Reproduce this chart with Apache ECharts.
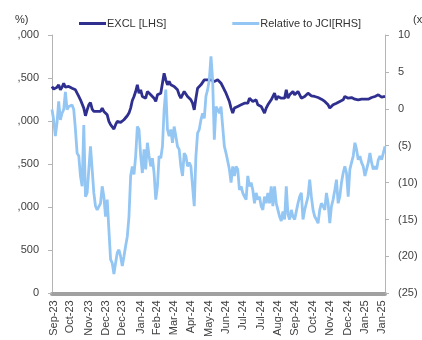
<!DOCTYPE html>
<html>
<head>
<meta charset="utf-8">
<script src="https://cdn.jsdelivr.net/npm/echarts@6/dist/echarts.min.js"></script>
<style>
  html, body { margin: 0; padding: 0; background: #fff; }
  #main { width: 422px; height: 340px; }
</style>
</head>
<body>
<div id="main"></div>
<script>
// month labels under the x axis and the point each one sits on
var tickLabels = ['Sep-23', 'Oct-23', 'Nov-23', 'Dec-23', 'Dec-23', 'Jan-24', 'Feb-24', 'Mar-24', 'Apr-24', 'May-24',
  'Jun-24', 'Jul-24', 'Jul-24', 'Aug-24', 'Sep-24', 'Oct-24', 'Nov-24', 'Dec-24', 'Jan-25', 'Jan-25'];
var labelIdx = [1, 11, 22, 32, 42, 53, 63, 73, 83, 94, 104, 114, 125, 135, 145, 156, 166, 177, 187, 197];
var bandTicks = [24, 59, 94, 130, 165];

// EXCL share price [LHS]
var excl = [
  2402, 2371, 2355, 2394, 2421, 2363, 2394, 2440, 2394, 2382, 2402, 2394, 2382, 2382, 2363, 2324, 2286, 2247, 2266, 2151,
  2062, 2131, 2189, 2216, 2139, 2112, 2093, 2112, 2131, 2112, 2151, 2112, 2131, 2073, 1996, 1958, 1938, 1908, 1958, 1996,
  2008, 1985, 1996, 2016, 2035, 2062, 2093, 2151, 2239, 2286, 2344,
  2421, 2324, 2363, 2286, 2305, 2266, 2344, 2324, 2305, 2305, 2266, 2228, 2305, 2305, 2324, 2440, 2556, 2479, 2421, 2460,
  2421, 2440, 2402, 2421, 2363, 2305, 2266, 2286, 2344, 2324, 2286, 2286, 2247, 2208, 2131, 2266, 2382, 2402, 2421, 2440,
  2479, 2460, 2479, 2487, 2479, 2479, 2460, 2479, 2479,
  2460, 2440, 2402, 2363, 2324, 2305, 2228, 2151, 2093, 2151, 2131, 2170, 2151, 2189, 2170, 2208, 2228, 2208, 2266, 2247,
  2228, 2208, 2247, 2189, 2189, 2170, 2151, 2093, 2151, 2189, 2189, 2247, 2266, 2324, 2247, 2286, 2286, 2266, 2286, 2266,
  2363, 2266, 2305, 2305, 2344, 2305, 2324, 2344, 2363,
  2266, 2247, 2286, 2305, 2324, 2305, 2294, 2286, 2286, 2286, 2274, 2266, 2255, 2247, 2228, 2208, 2189, 2151, 2170, 2189,
  2201, 2208, 2216, 2228, 2239, 2247, 2286, 2305, 2266, 2266, 2274, 2266, 2255, 2247, 2247, 2247, 2255, 2266, 2255, 2247,
  2255, 2266, 2274, 2286, 2286, 2286, 2305, 2286, 2278, 2266, 2286
];

// Relative to JCI, % [RHS]
var relJci = [
  -0.1, -1.5, -3.7, -1.9, 1.0, -1.5, -0.6, -0.1, 2.3, -0.1, 0.3, 0.1, 0.5, -0.1, -2.8, -6.0, -6.4, -9.1, -10.5, -2.2,
  -11.9, -11.4, -8.2, -5.1, -8.2, -11.4, -13.2, -13.7, -13.7, -12.8, -10.5, -11.9, -14.6, -12.3, -16.4, -20.4, -20.9, -22.4, -20.9, -19.5,
  -19.1, -20.0, -21.3, -20.0, -18.6, -17.3, -14.6, -9.1, -7.8, -8.9, -6.4,
  -2.4, -2.8, -6.4, -8.7, -5.5, -8.2, -4.6, -6.4, -7.8, -6.7, -8.7, -12.3, -10.5, -6.4, -6.7, -5.1, -0.1, 2.6, -2.8, -3.7,
  -2.8, -4.6, -2.4, -3.7, -5.1, -5.5, -7.8, -9.1, -6.0, -6.4, -7.8, -7.3, -7.8, -7.8, -13.2, -6.4, -3.3, -2.8, -1.5, -0.6,
  -1.3, 1.7, 2.6, 3.9, 7.1, 3.9, -4.2, 0.3, -0.1,
  -0.6, 0.3, -2.4, -5.1, -6.0, -6.2, -8.2, -10.0, -7.8, -9.1, -7.8, -8.2, -11.0, -10.5, -11.4, -11.9, -12.3, -9.1, -10.5, -10.0,
  -11.0, -12.8, -11.4, -12.3, -11.9, -13.2, -13.7, -11.9, -12.8, -11.4, -12.8, -10.5, -13.2, -10.5, -12.8, -13.7, -14.6, -15.2, -13.9, -15.0,
  -10.5, -14.3, -15.0, -13.7, -14.6, -15.0, -13.9, -12.8, -11.9,
  -11.4, -15.0, -13.7, -12.8, -11.9, -9.6, -11.9, -13.7, -14.6, -15.0, -15.5, -13.7, -12.8, -13.2, -13.7, -11.4, -12.8, -15.5, -13.2, -12.3,
  -11.0, -9.6, -12.8, -11.9, -10.0, -8.7, -7.8, -8.7, -11.9, -8.2, -7.3, -6.4, -4.6, -5.5, -6.9, -6.4, -7.3, -7.8, -9.1, -8.2,
  -7.3, -6.0, -7.3, -8.2, -7.8, -8.2, -6.9, -6.4, -6.9, -6.7, -5.1
];

var cats = excl.map(function (v, i) {
  var k = labelIdx.indexOf(i);
  return k >= 0 ? tickLabels[k] : '';
});

var chartDom = document.getElementById('main');
var myChart = echarts.init(chartDom);
var font = 'Liberation Sans';

myChart.setOption({
  animation: false,
  grid: { left: 52, right: 37, top: 35, bottom: 46 },
  legend: {
    left: 74,
    top: 13,
    itemGap: 66,
    itemWidth: 27,
    itemHeight: 3,
    icon: 'rect',
    textStyle: { fontFamily: font, fontSize: 11, color: '#333', padding: [0, 0, 0, -4] },
    data: ['EXCL [LHS]', 'Relative to JCI[RHS]']
  },
  graphic: [
    { type: 'text', left: 15, top: 14, style: { text: '%)', font: '11px "Liberation Sans"', fill: '#333' } },
    { type: 'text', left: 413, top: 14, style: { text: '(x)', font: '11px "Liberation Sans"', fill: '#333' } }
  ],
  xAxis: [
    {
      // grey band with the month labels
      type: 'category',
      boundaryGap: false,
      data: cats,
      axisLine: { lineStyle: { color: '#a0a0a0', width: 4 } },
      axisTick: { show: false },
      axisLabel: {
        interval: function (i, v) { return v !== ''; },
        rotate: 90,
        margin: 7,
        fontFamily: font,
        fontSize: 11,
        color: '#404040'
      }
    },
    {
      // white breaks across the band
      type: 'category',
      boundaryGap: false,
      data: cats,
      position: 'bottom',
      axisLine: { show: false },
      axisLabel: { show: false },
      axisTick: {
        show: true,
        inside: true,
        length: 3,
        interval: function (i) { return bandTicks.indexOf(i) >= 0; },
        lineStyle: { color: '#ffffff', width: 1 }
      }
    }
  ],
  yAxis: [
    {
      type: 'value',
      min: 0,
      max: 3000,
      interval: 500,
      axisLine: { show: true, lineStyle: { color: '#b4b4b4' } },
      axisTick: { show: true, length: 4, lineStyle: { color: '#b4b4b4' } },
      axisLabel: {
        margin: 13,
        fontFamily: font,
        fontSize: 11,
        color: '#404040',
        formatter: function (v) {
          if (v >= 1000) return ',' + String(v % 1000).padStart(3, '0');
          return String(v);
        }
      },
      splitLine: { show: false }
    },
    {
      type: 'value',
      min: -25,
      max: 10,
      interval: 5,
      axisLine: { show: true, lineStyle: { color: '#b4b4b4' } },
      axisTick: { show: true, length: 4, lineStyle: { color: '#b4b4b4' } },
      axisLabel: {
        margin: 13,
        fontFamily: font,
        fontSize: 11,
        color: '#404040',
        formatter: function (v) { return v < 0 ? '(' + (-v) + ')' : String(v); }
      },
      splitLine: { show: false }
    }
  ],
  series: [
    {
      name: 'EXCL [LHS]',
      type: 'line',
      yAxisIndex: 0,
      data: excl,
      showSymbol: false,
      lineStyle: { color: '#2e2f8f', width: 2.8 },
      itemStyle: { color: '#2e2f8f' }
    },
    {
      name: 'Relative to JCI[RHS]',
      type: 'line',
      yAxisIndex: 1,
      data: relJci,
      showSymbol: false,
      lineStyle: { color: '#94c6f4', width: 2.8 },
      itemStyle: { color: '#94c6f4' }
    }
  ]
});
</script>
</body>
</html>
